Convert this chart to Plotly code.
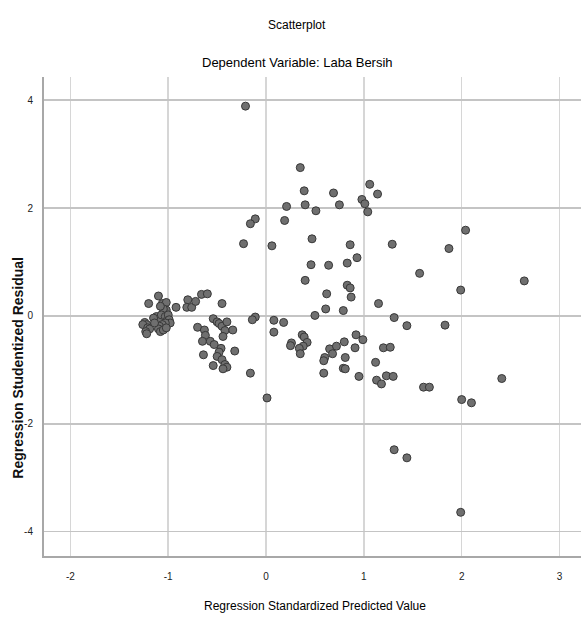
import plotly.graph_objects as go

# Regression Standardized Predicted Value (x) and Regression Studentized Residual (y)
pred = [
    0.35, 0.39, 0.69, 1.06, 1.14, 0.98, 1.01, 1.04, 0.21, 0.40, 0.51, 0.75,
    -0.11, -0.16, 0.19, 0.06, 0.47, 0.86, 1.29, 0.93, 0.46, 0.64, 0.83, 0.40,
    1.57, 0.83, 0.86, 0.87, 0.62, 0.61, 0.79, 0.50, 1.15, 1.31, 1.44, -0.11,
    -0.14, 0.08, 0.08, 0.18, -0.16, 0.01, 0.37, 0.39, 0.42, 0.38, 0.34, 0.35,
    0.26, 0.25, 0.65, 0.68, 0.72, 0.80, 0.60, 0.59, 0.81, 0.79, 0.81, 0.59,
    0.92, 0.99, 0.91, 1.20, 1.27, 1.12, 0.95, 1.13, 1.18, 1.23, 1.30, 1.61,
    1.67, 2.04, 1.87, 2.64, 1.99, 1.83, 2.41, 2.00, 2.10, -0.21, 1.31, 1.44,
    1.99, -0.23,
    -1.20, -1.10, -1.06, -1.02, -1.02, -1.05, -1.08, -0.92, -0.80, -0.81, -0.76,
    -0.72, -0.66, -0.60, -0.45, -0.54, -0.50, -0.48, -0.45, -0.42, -0.40, -0.34,
    -0.44, -0.70, -0.63, -0.62, -0.65, -0.57, -0.53, -0.46, -0.48, -0.32, -0.64,
    -0.50, -0.45, -0.42, -0.40, -0.44, -0.54,
    -1.12, -1.13, -1.09, -1.07, -1.03, -1.00, -1.02, -0.99, -0.98, -1.03, -1.06,
    -1.09, -1.10, -1.08, -1.05, -1.02, -1.24, -1.22, -1.26, -1.21, -1.19, -1.23,
    -1.22, -1.15, -1.14,
]
resid = [
    2.75, 2.32, 2.28, 2.44, 2.26, 2.16, 2.08, 1.93, 2.03, 2.06, 1.95, 2.06,
    1.80, 1.71, 1.77, 1.30, 1.43, 1.32, 1.33, 1.08, 0.95, 0.94, 0.98, 0.66,
    0.79, 0.57, 0.52, 0.35, 0.41, 0.13, 0.10, 0.01, 0.23, -0.03, -0.18, -0.02,
    -0.07, -0.08, -0.30, -0.12, -1.06, -1.52, -0.35, -0.39, -0.49, -0.56, -0.60, -0.70,
    -0.50, -0.55, -0.61, -0.70, -0.56, -0.48, -0.77, -0.83, -0.77, -0.97, -0.98, -1.06,
    -0.35, -0.44, -0.59, -0.59, -0.58, -0.86, -1.12, -1.19, -1.26, -1.11, -1.12, -1.32,
    -1.32, 1.59, 1.25, 0.65, 0.48, -0.17, -1.16, -1.55, -1.61, 3.89, -2.48, -2.63,
    -3.64, 1.34,
    0.23, 0.37, 0.23, 0.25, 0.11, 0.13, 0.18, 0.16, 0.30, 0.16, 0.16,
    0.27, 0.40, 0.41, 0.23, -0.05, -0.11, -0.14, -0.19, -0.27, -0.11, -0.26,
    -0.38, -0.21, -0.26, -0.36, -0.47, -0.47, -0.53, -0.60, -0.67, -0.65, -0.72,
    -0.75, -0.81, -0.90, -0.95, -0.98, -0.92,
    -0.01, -0.07, -0.06, 0.02, -0.01, 0.02, -0.10, -0.07, -0.13, -0.13, -0.16,
    -0.19, -0.24, -0.29, -0.26, -0.22, -0.12, -0.16, -0.16, -0.22, -0.24, -0.29,
    -0.33, -0.04, -0.13,
]

x_ticks = [-2, -1, 0, 1, 2, 3]
y_ticks = [-4, -2, 0, 2, 4]

title_text = "Scatterplot"
subtitle_text = "Dependent Variable: Laba Bersih"
x_title = "Regression Standardized Predicted Value"
y_title = "Regression Studentized Residual"

SANS = "Liberation Sans, Arial, sans-serif"

FIG_W, FIG_H = 581, 617
PLOT_L, PLOT_T = 44, 77
PLOT_B = 556.5
PLOT_W = FIG_W - PLOT_L
PLOT_H = PLOT_B - PLOT_T


def px(xs):
    return (xs - PLOT_L) / PLOT_W


def py(ys):
    return (PLOT_B - ys) / PLOT_H


fig = go.Figure()
fig.add_trace(go.Scatter(
    x=pred, y=resid, mode="markers",
    marker=dict(size=8, color="#6f6f6f", line=dict(color="#383838", width=1)),
    showlegend=False, hoverinfo="skip",
))

fig.update_layout(
    width=FIG_W, height=FIG_H,
    margin=dict(l=PLOT_L, r=0, t=PLOT_T, b=FIG_H - PLOT_B, pad=0),
    paper_bgcolor="white", plot_bgcolor="white",
    font=dict(family=SANS, size=12, color="#000"),
    xaxis=dict(
        range=[-2.27, 3.22], tickvals=x_ticks, ticktext=[str(v) for v in x_ticks],
        showgrid=True, gridcolor="#d6d6d6", gridwidth=1.5,
        zeroline=False, showline=True, linecolor="#a8a8a8", linewidth=2,
        mirror=False, ticks="", ticklabelstandoff=10,
        tickfont=dict(family=SANS, size=10, color="#222"),
        fixedrange=True,
    ),
    yaxis=dict(
        range=[-4.45, 4.43], tickvals=y_ticks, ticktext=[str(v) for v in y_ticks],
        showgrid=True, gridcolor="#c4c4c4", gridwidth=1.5,
        zeroline=False, showline=True, linecolor="#a8a8a8", linewidth=2,
        mirror=False, ticks="", ticklabelstandoff=7,
        tickfont=dict(family=SANS, size=10, color="#222"),
        fixedrange=True,
    ),
    annotations=[
        dict(text=title_text, xref="paper", yref="paper",
             x=px(297), y=py(25),
             showarrow=False, xanchor="center", yanchor="middle",
             font=dict(family=SANS, size=12, color="#000")),
        dict(text=subtitle_text, xref="paper", yref="paper",
             x=px(297), y=py(62),
             showarrow=False, xanchor="center", yanchor="middle",
             font=dict(family=SANS, size=13, color="#000")),
        dict(text=x_title, xref="paper", yref="paper",
             x=px(315), y=py(607),
             showarrow=False, xanchor="center", yanchor="middle",
             font=dict(family=SANS, size=12, color="#000")),
        dict(text="<b>" + y_title + "</b>", xref="paper", yref="paper",
             x=px(18), y=py(368),
             showarrow=False, xanchor="center", yanchor="middle", textangle=-90,
             font=dict(family=SANS, size=14, color="#111")),
    ],
)

fig.write_html(
    "out.html",
    config={"displayModeBar": False, "staticPlot": True},
    post_script=(
        "document.body.style.margin='0';"
        "document.documentElement.style.overflow='hidden';"
        "document.body.style.overflow='hidden';"
    ),
)
